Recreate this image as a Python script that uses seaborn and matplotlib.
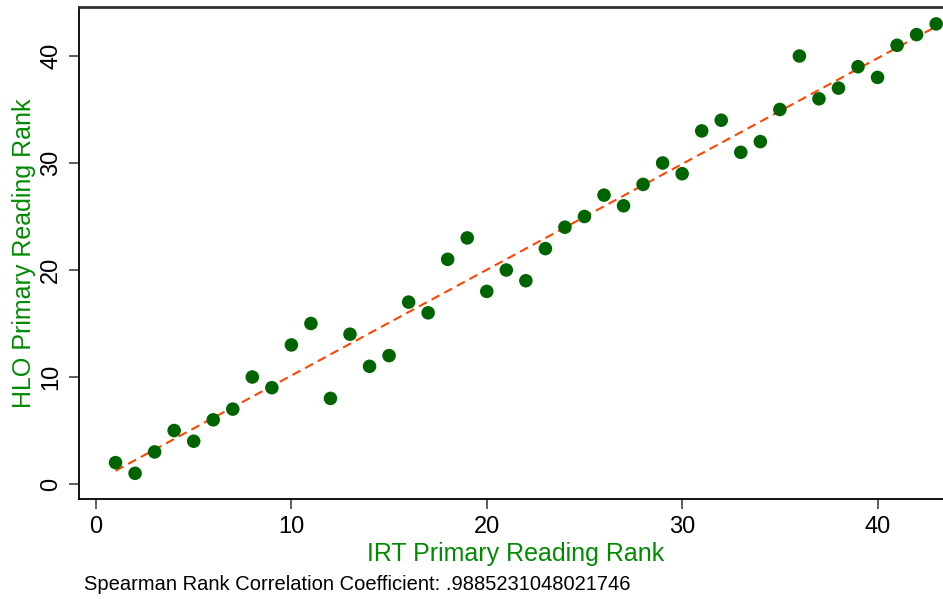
import matplotlib
matplotlib.use("Agg")
import matplotlib.pyplot as plt
import pandas as pd
import seaborn as sns

# IRT rank (x) vs HLO rank (y)
irt_rank = list(range(1, 44))
hlo_rank = [2, 1, 3, 5, 4, 6, 7, 10, 9, 13,
            15, 8, 14, 11, 12, 17, 16, 21, 23, 18,
            20, 19, 22, 24, 25, 27, 26, 28, 30, 29,
            33, 34, 31, 32, 35, 40, 36, 37, 39, 38,
            41, 42, 43]
x_ticks = [0, 10, 20, 30, 40]
y_ticks = [0, 10, 20, 30, 40]
spearman = ".9885231048021746"

MARKER_GREEN = "#006400"
LABEL_GREEN = "#008b00"
FIT_ORANGE = "#ff4500"


def main():
    sns.set_theme(style="ticks")
    plt.rcParams["font.family"] = ["Liberation Sans", "DejaVu Sans"]

    df = pd.DataFrame({"irt": irt_rank, "hlo": hlo_rank})

    fig = plt.figure(figsize=(9.43, 5.99), dpi=100)
    # axes box: left 79px, bottom 499px, top 7px, runs off the right edge
    ax = fig.add_axes([79 / 943, 1 - 499 / 599, 1 - 79 / 943, (499 - 7) / 599])

    sns.scatterplot(data=df, x="irt", y="hlo", color=MARKER_GREEN, s=95,
                    edgecolor="none", ax=ax, zorder=3)
    sns.regplot(data=df, x="irt", y="hlo", scatter=False, ci=None, ax=ax,
                line_kws={"color": FIT_ORANGE, "lw": 1.5, "ls": (0, (4.3, 2.6))})

    ax.set_xlim(-0.87, 43.35)
    ax.set_ylim(-1.4, 44.58)
    ax.set_xticks(x_ticks)
    ax.set_yticks(y_ticks)
    ax.tick_params(axis="both", labelsize=17, length=7, width=1.1,
                   color="#333333", labelcolor="black", pad=5)
    for lab in ax.get_yticklabels():
        lab.set_rotation(90)
        lab.set_va("center")

    ax.set_xlabel("IRT Primary Reading Rank", color=LABEL_GREEN, fontsize=18,
                  labelpad=3)
    ax.xaxis.label.set_x(0.505)
    ax.set_ylabel("HLO Primary Reading Rank", color=LABEL_GREEN, fontsize=18,
                  labelpad=3)

    for side in ["left", "bottom"]:
        ax.spines[side].set_color("black")
        ax.spines[side].set_linewidth(1.3)
    ax.spines["top"].set_visible(True)
    ax.spines["top"].set_color("#333333")
    ax.spines["top"].set_linewidth(2.0)
    ax.spines["right"].set_visible(False)

    fig.text(84 / 943, 1 - 585 / 599,
             f"Spearman Rank Correlation Coefficient: {spearman}",
             fontsize=14.5, va="center", ha="left", color="black")

    fig.savefig("out.png", dpi=100, facecolor="white")
    plt.close(fig)


if __name__ == "__main__":
    main()
